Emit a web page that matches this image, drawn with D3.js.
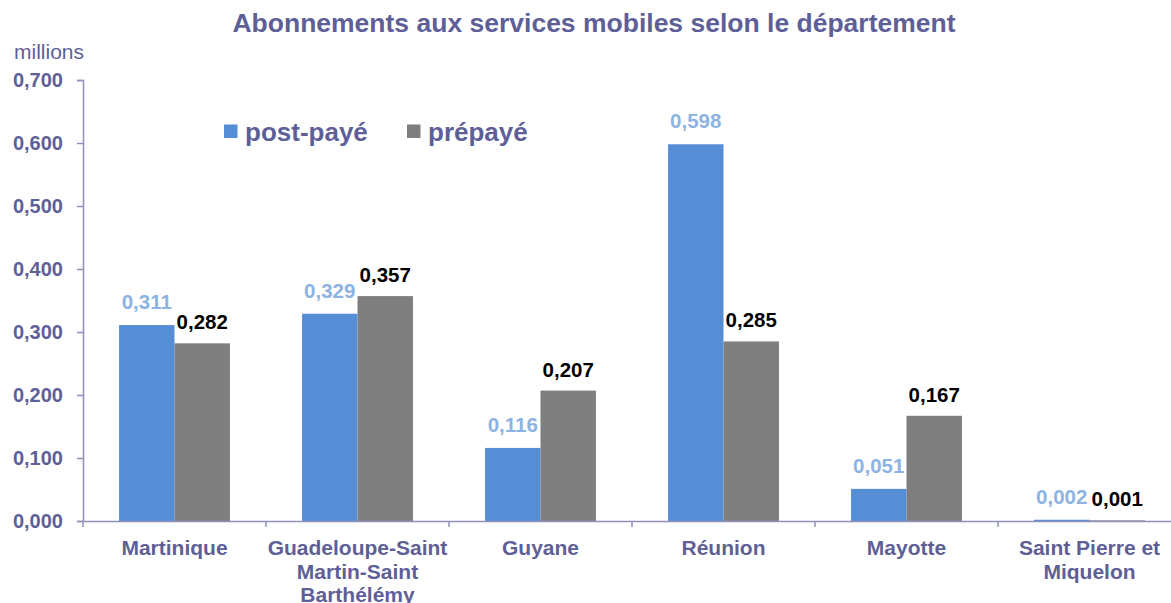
<!DOCTYPE html>
<html>
<head>
<meta charset="utf-8">
<script src="https://cdn.jsdelivr.net/npm/d3@7"></script>
<style>
  body { margin: 0; background: #fff; }
  text { font-family: "Liberation Sans", Arial, sans-serif; }
</style>
</head>
<body>
<div id="container"></div>
<script>
let width = 1171;
let height = 603;

// data
let categories = ["Martinique", "Guadeloupe-Saint\nMartin-Saint\nBarthélémy", "Guyane", "Réunion", "Mayotte", "Saint Pierre et\nMiquelon"];
let series = ["post-payé", "prépayé"];
let postPaye = [0.311, 0.329, 0.116, 0.598, 0.051, 0.002];
let prepaye = [0.282, 0.357, 0.207, 0.285, 0.167, 0.001];
let yTicks = [0, 0.1, 0.2, 0.3, 0.4, 0.5, 0.6, 0.7];

let textColor = "#5f5f98";
let axisColor = "#9090bb";
let barColors = ["#558ed5", "#7f7f7f"];
let labelColors = ["#8db3e2", "#000000"];

let fmt = d => d3.format(".3f")(d).replace(".", ",");

let svg = d3.select("#container")
  .append("svg")
  .attr("width", width)
  .attr("height", height);

let x = d3.scaleBand()
  .domain(d3.range(categories.length))
  .range([83, 1181]);

let xInner = d3.scaleBand()
  .domain(d3.range(series.length))
  .range([0, x.bandwidth()])
  .paddingOuter(0.65);

let y = d3.scaleLinear()
  .domain([0, 0.7])
  .range([521, 80]);

// title
svg.append("text")
  .attr("x", 594).attr("y", 32)
  .attr("text-anchor", "middle")
  .style("font-size", "26.5px").style("font-weight", "bold")
  .attr("fill", textColor)
  .text("Abonnements aux services mobiles selon le département");

svg.append("text")
  .attr("x", 14).attr("y", 59)
  .style("font-size", "21px")
  .attr("fill", textColor)
  .text("millions");

// bars
let values = [postPaye, prepaye];
values.forEach(function (vals, s) {
  svg.append("g").selectAll("rect").data(vals)
    .enter().append("rect")
    .attr("x", (d, i) => x(i) + xInner(s))
    .attr("y", d => y(d))
    .attr("width", xInner.bandwidth())
    .attr("height", d => y(0) - y(d))
    .attr("fill", barColors[s]);

  svg.append("g").selectAll("text").data(vals)
    .enter().append("text")
    .attr("x", (d, i) => x(i) + xInner(s) + xInner.bandwidth() / 2)
    .attr("y", d => y(d) - (s == 0 ? 16 : 14))
    .attr("text-anchor", "middle")
    .style("font-size", "20.5px").style("font-weight", "bold")
    .attr("fill", labelColors[s])
    .text(d => fmt(d));
});

// y axis
let yAxis = svg.append("g")
  .attr("transform", "translate(83,0)")
  .call(d3.axisLeft(y).tickValues(yTicks).tickFormat(fmt).tickSizeOuter(0).tickSize(6).tickPadding(14));
yAxis.select(".domain").attr("stroke", axisColor).attr("stroke-width", 1.5);
yAxis.selectAll(".tick line").attr("stroke", axisColor).attr("stroke-width", 1.5);
yAxis.selectAll(".tick text")
  .attr("fill", textColor)
  .style("font-size", "20px").style("font-weight", "bold")
  .style("font-family", "Liberation Sans, Arial, sans-serif");

// x axis
let xAxis = svg.append("g")
  .attr("transform", "translate(0,521)")
  .call(d3.axisBottom(x).tickSize(0).tickFormat(""));
xAxis.select(".domain").attr("stroke", axisColor).attr("stroke-width", 1.5);
xAxis.selectAll(".tick").remove();

let bounds = d3.range(categories.length + 1).map(i => 83 + i * x.bandwidth());
xAxis.selectAll("line.bound").data(bounds)
  .enter().append("line")
  .attr("class", "bound")
  .attr("x1", d => d).attr("x2", d => d)
  .attr("y1", 0).attr("y2", 6)
  .attr("stroke", axisColor).attr("stroke-width", 1.5);

let catLabels = svg.append("g").selectAll("text").data(categories)
  .enter().append("text")
  .attr("text-anchor", "middle")
  .style("font-size", "21px").style("font-weight", "bold")
  .attr("fill", textColor)
  .attr("transform", (d, i) => `translate(${x(i) + x.bandwidth() / 2},555)`);
catLabels.each(function (d) {
  let lines = d.split("\n");
  d3.select(this).selectAll("tspan").data(lines)
    .enter().append("tspan")
    .attr("x", 0)
    .attr("y", (l, j) => j * 23.5)
    .text(l => l);
});

// legend
let legend = svg.append("g").attr("transform", "translate(224,124.5)");
series.forEach(function (name, s) {
  let g = legend.append("g").attr("transform", `translate(${s * 183},0)`);
  g.append("rect").attr("width", 13.5).attr("height", 13.5).attr("fill", barColors[s]);
  g.append("text")
    .attr("x", 21).attr("y", 16)
    .style("font-size", "26px").style("font-weight", "bold")
    .attr("fill", textColor)
    .text(name);
});
</script>
</body>
</html>
